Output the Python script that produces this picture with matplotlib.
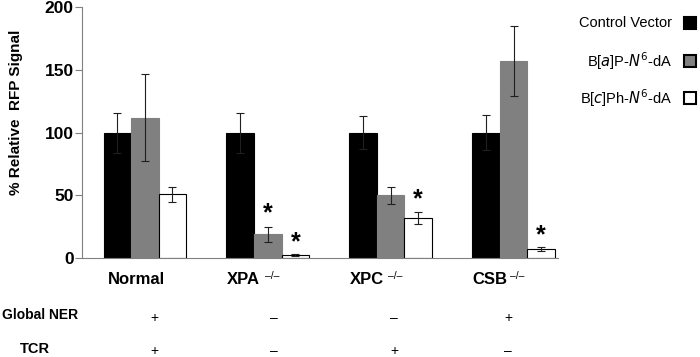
import matplotlib
matplotlib.use("Agg")
import matplotlib.pyplot as plt
import numpy as np

plt.rcParams['font.family'] = ['Liberation Sans', 'DejaVu Sans']

categories = ["Normal", "XPA", "XPC", "CSB"]
cat_sup = ["", "\u2013/\u2013", "\u2013/\u2013", "\u2013/\u2013"]
series = ["Control Vector", "B[a]P-N6-dA", "B[c]Ph-N6-dA"]
control = [100, 100, 100, 100]
control_err = [16, 16, 13, 14]
bap = [112, 19, 50, 157]
bap_err = [35, 6, 7, 28]
bcph = [51, 2.5, 32, 7]
bcph_err = [6, 0.5, 5, 1.5]
star_bap = [False, True, False, False]
star_bcph = [False, True, True, True]
global_ner = ["+", "\u2013", "\u2013", "+"]
tcr = ["+", "\u2013", "+", "\u2013"]

fig = plt.figure(figsize=(7, 3.57), dpi=100)
ax = fig.add_axes([0.117, 0.277, 0.68, 0.703])

x = np.arange(len(categories))
w = 0.224
colors = ["#000000", "#808080", "#ffffff"]
vals = [control, bap, bcph]
errs = [control_err, bap_err, bcph_err]
for i, (v, e, c) in enumerate(zip(vals, errs, colors)):
    ax.bar(x + (i - 1) * w, v, w, color=c, edgecolor="#000000" if i != 1 else "#808080",
           linewidth=0.8, zorder=2)
    ax.errorbar(x + (i - 1) * w, v, yerr=e, fmt="none", ecolor="#202020",
                elinewidth=0.8, capsize=3, capthick=0.8, zorder=3)

for i in range(len(categories)):
    if star_bap[i]:
        ax.text(x[i], bap[i] + bap_err[i] + 1, "*", ha="center", va="bottom",
                fontsize=18, fontweight="bold")
    if star_bcph[i]:
        ax.text(x[i] + w, bcph[i] + bcph_err[i] + 0, "*", ha="center", va="bottom",
                fontsize=18, fontweight="bold")

ax.set_ylim(0, 200)
ax.set_xlim(-0.512, 3.36)
ax.set_yticks([0, 50, 100, 150, 200])
ax.set_yticklabels(["0", "50", "100", "150", "200"], fontsize=12.5, fontweight="bold")
ax.set_xticks([])
ax.tick_params(axis="y", length=5, color="#808080", width=0.8, pad=1)
for s in ["top", "right"]:
    ax.spines[s].set_visible(False)
ax.spines["left"].set_color("#808080")
ax.spines["bottom"].set_color("#808080")
ax.set_ylabel("% Relative  RFP Signal", fontsize=11, fontweight="bold", va="center")
ax.yaxis.set_label_coords(-0.139, 0.58)

# category labels
for i, (c, s) in enumerate(zip(categories, cat_sup)):
    if not s:
        ax.text(x[i] - 0.07, -17, c, ha="center", va="center",
                fontsize=12, fontweight="bold", clip_on=False)
    else:
        ax.text(x[i] - 1.5 * w, -17, c, ha="left", va="center",
                fontsize=12, fontweight="bold", clip_on=False)
        ax.text(x[i] - 1.5 * w + 0.31, -14, s, ha="left", va="center", fontsize=7.5,
                clip_on=False)

# NER rows
fig.text(2 / 700, 1 - 315 / 357, "Global NER", ha="left", va="center", fontsize=10,
         fontweight="bold")
fig.text(35 / 700, 1 - 349 / 357, "TCR", ha="center", va="center", fontsize=10.5,
         fontweight="bold")
pm_x = [154, 274, 394, 508]
for i in range(len(categories)):
    fig.text(pm_x[i] / 700, 1 - 318 / 357, global_ner[i], ha="center", va="center", fontsize=10)
    fig.text(pm_x[i] / 700, 1 - 351 / 357, tcr[i], ha="center", va="center", fontsize=10)

# legend
leg_labels = ["Control Vector", r"B[$a$]P-$N^6$-dA", r"B[$c$]Ph-$N^6$-dA"]
leg_y = [23, 61, 98]
for lab, yy, c in zip(leg_labels, leg_y, colors):
    fig.text(672 / 700, 1 - yy / 357, lab, ha="right", va="center", fontsize=10.5)
    fig.patches.append(plt.Rectangle(((684) / 700, 1 - (yy + 6) / 357), 12 / 700, 12 / 357,
                                     transform=fig.transFigure, facecolor=c,
                                     edgecolor="black", linewidth=1.5, figure=fig))

fig.savefig("out.png", dpi=100)
